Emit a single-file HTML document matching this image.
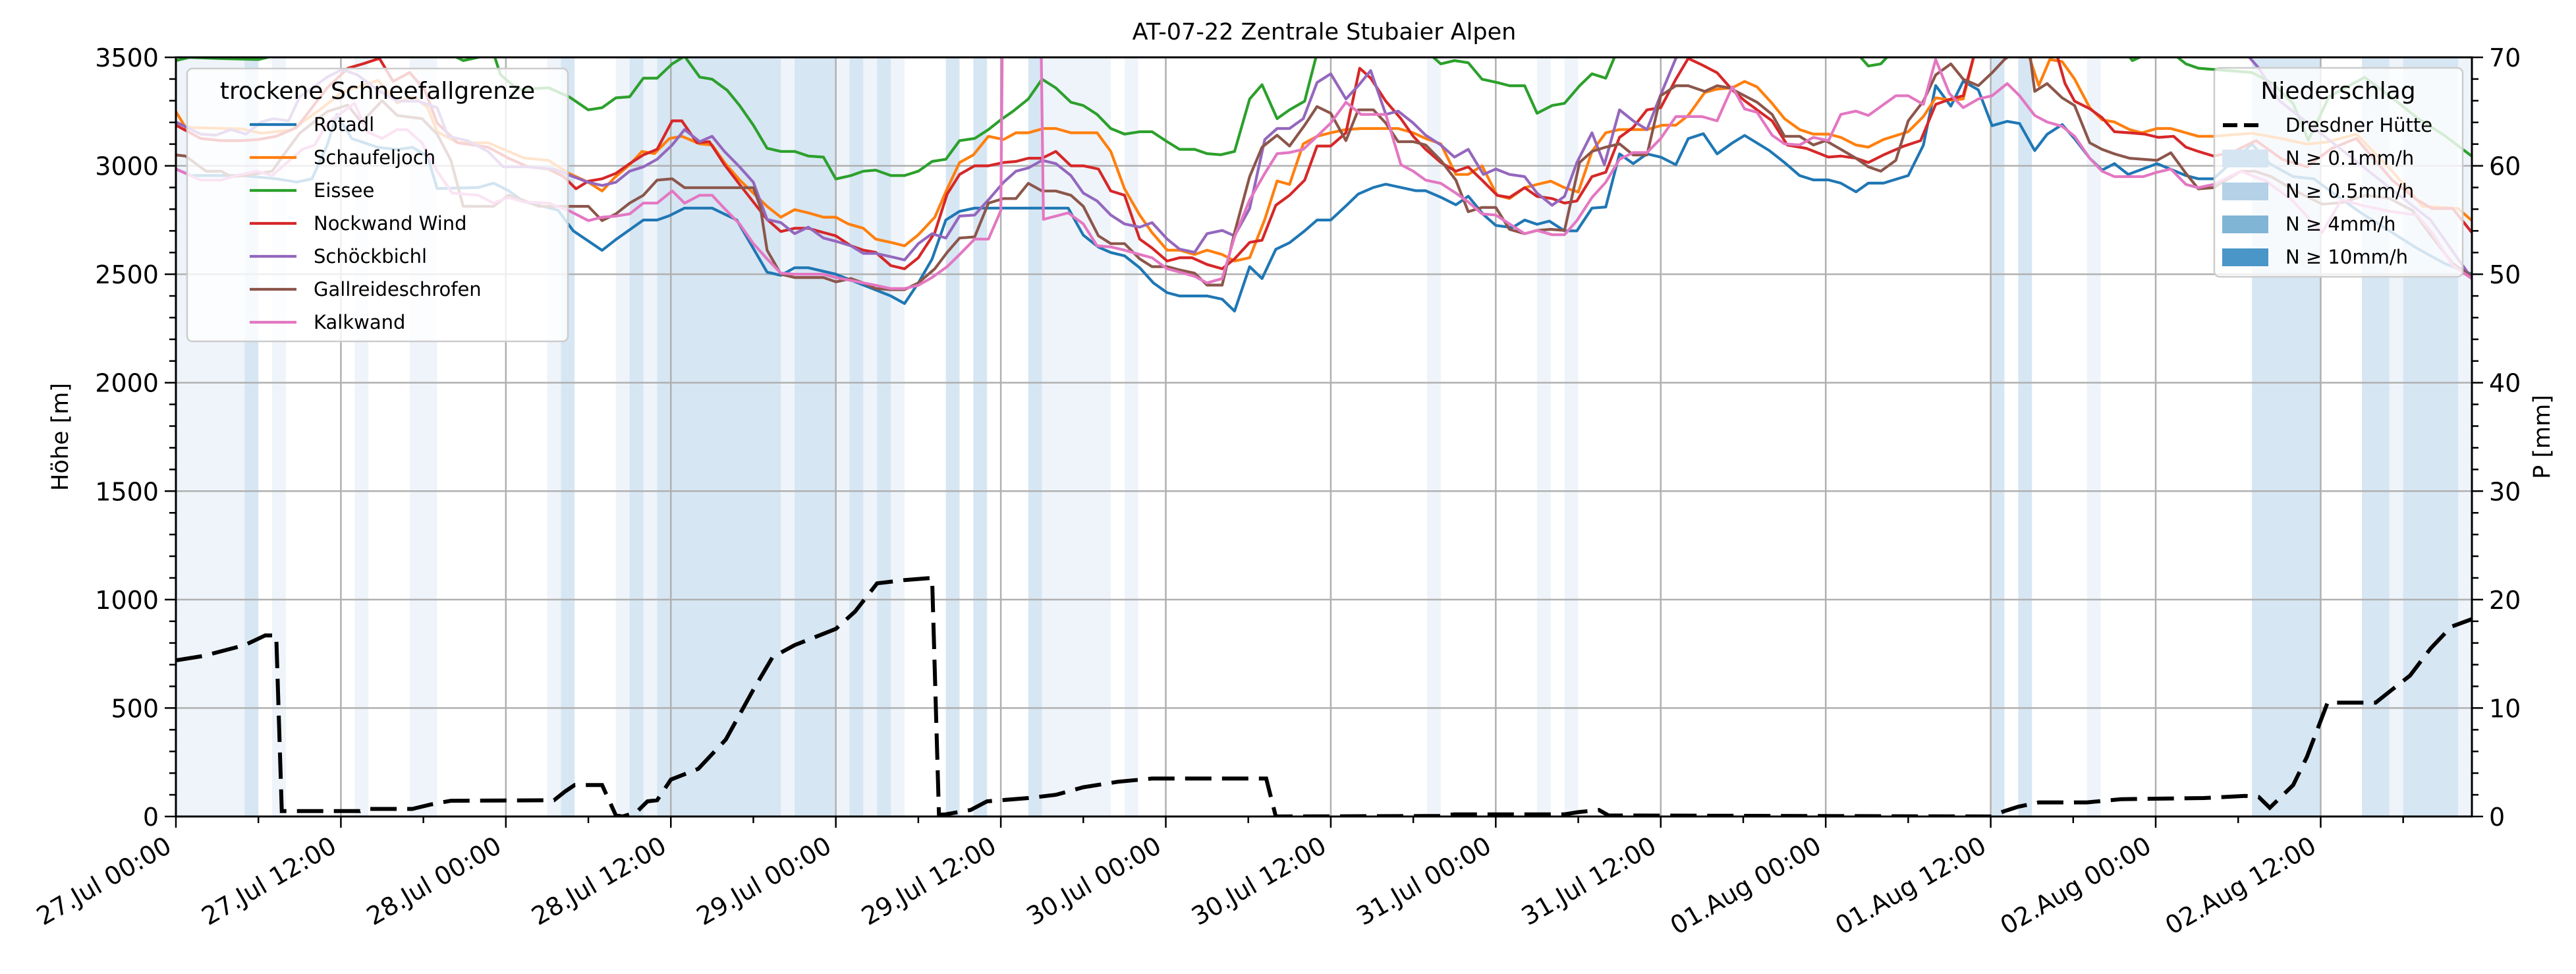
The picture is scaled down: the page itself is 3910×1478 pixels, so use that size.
<!DOCTYPE html>
<html><head><meta charset="utf-8">
<style>
html,body{margin:0;padding:0;background:#fff;}
svg{display:block;font-family:"DejaVu Sans","Liberation Sans",sans-serif;}
</style></head>
<body>
<svg id="chart" xmlns="http://www.w3.org/2000/svg" width="3910" height="1478" viewBox="0 0 3910 1478">
<rect x="0" y="0" width="3910" height="1478" fill="#ffffff"/>
<defs><clipPath id="plotclip"><rect x="267" y="87" width="3485" height="1152"/></clipPath></defs>
<g id="bands" clip-path="url(#plotclip)"></g>
<g id="grid"></g>
<g id="series" clip-path="url(#plotclip)"></g>
<g id="axes"></g>
<g id="legends"></g>
</svg>
<script>
// ---- data ----
const tickLabels = ["27.Jul 00:00","27.Jul 12:00","28.Jul 00:00","28.Jul 12:00","29.Jul 00:00","29.Jul 12:00","30.Jul 00:00","30.Jul 12:00","31.Jul 00:00","31.Jul 12:00","01.Aug 00:00","01.Aug 12:00","02.Aug 00:00","02.Aug 12:00"];
const leftTicks = [0,500,1000,1500,2000,2500,3000,3500];
const rightTicks = [0,10,20,30,40,50,60,70];
const seriesNames = ["Rotadl","Schaufeljoch","Eissee","Nockwand Wind","Schöckbichl","Gallreideschrofen","Kalkwand"];
const rotadl = [[0,2985],[1.1,2955],[4.8,2955],[7.3,2940],[8.8,2925],[9.9,2940],[11,3095],[11.7,3237],[12.8,3125],[14.7,3085],[16.1,3075],[17.2,3085],[18.3,3045],[19,2895],[22,2900],[23.1,2920],[24.2,2885],[25.3,2835],[27.8,2795],[28.9,2700],[31,2610],[32,2660],[34,2750],[35,2750],[35.9,2770],[37,2805],[39,2805],[40.8,2750],[41.9,2630],[43,2510],[44,2495],[45,2530],[46,2530],[48,2500],[50,2450],[52,2400],[53,2365],[54,2460],[55,2570],[56,2750],[57,2790],[58.1,2805],[64.9,2805],[66,2680],[67.1,2625],[68,2600],[69,2585],[70.1,2530],[71.1,2460],[72.1,2415],[73,2400],[75,2400],[76.1,2385],[77,2330],[78.1,2535],[79,2480],[80,2615],[81,2645],[82.1,2700],[83,2750],[84,2750],[85.1,2815],[86,2870],[87.1,2900],[88,2915],[89.1,2900],[90.2,2885],[90.9,2885],[92,2855],[93.1,2820],[94,2860],[95.1,2775],[96,2725],[97.2,2715],[98.1,2750],[99,2730],[99.9,2745],[101,2700],[101.9,2700],[103,2805],[104,2810],[105,3055],[106,3010],[107,3055],[108,3040],[109.1,3005],[110,3125],[111.1,3148],[112.1,3055],[113.2,3105],[114.1,3140],[115.9,3070],[117,3015],[118.1,2955],[119.1,2935],[120.2,2935],[121.1,2920],[122.2,2880],[123.1,2920],[124.2,2920],[126,2955],[127.1,3095],[128,3370],[129.1,3275],[130,3390],[131.1,3350],[132.1,3185],[133.2,3205],[134.1,3195],[135.2,3070],[136.1,3145],[137.2,3190],[138.1,3125],[139.2,3035],[140.1,2980],[141,3010],[142,2960],[144.1,3010],[146.2,2955],[147.1,2940],[148.2,2940],[151,3100],[152.3,3010],[154,2950],[155.5,2940],[157,2870],[159,2780],[161,2700],[163,2620],[165,2550],[167,2500]];
const schaufeljoch = [[0,3250],[0.7,3177],[4.8,3170],[6.2,3150],[8.4,3165],[10.5,3260],[12.1,3340],[14.7,3394],[16.1,3290],[17.2,3320],[18.3,3270],[19,3157],[20.5,3106],[22.7,3106],[24.2,3066],[25.3,3036],[27.1,3025],[28.6,2965],[30,2924],[31,2884],[31.9,2945],[33,3005],[33.9,3066],[34.8,3056],[35.9,3126],[36.8,3136],[38.1,3101],[39,3096],[39.9,3015],[41,2935],[42,2874],[43,2813],[44,2763],[45,2798],[46,2783],[47.1,2763],[48,2763],[48.9,2732],[50,2712],[50.9,2662],[52,2647],[53,2631],[54,2682],[55.2,2763],[56.1,2894],[57,3015],[58,3050],[59.1,3136],[60.2,3121],[61.1,3152],[62,3152],[63.1,3172],[64,3172],[65.1,3152],[67,3152],[68,3066],[69,2894],[70.1,2773],[71,2692],[72.1,2611],[73,2611],[74.1,2591],[75,2611],[76.1,2591],[77,2561],[78.1,2576],[79.2,2753],[80.1,2930],[81,2914],[82,3101],[83,3136],[84,3152],[85.1,3167],[86.2,3172],[88.9,3172],[90,3152],[90.9,3126],[92,3101],[93.1,2960],[94,2960],[95,3000],[96.1,2864],[97,2849],[98.1,2899],[99,2914],[100,2929],[101,2899],[102,2879],[103,3066],[104,3152],[105,3167],[107,3167],[108.1,3187],[109.1,3187],[110,3232],[111.2,3338],[112.1,3354],[113.2,3359],[114.1,3389],[115,3364],[116.1,3288],[117,3217],[118.1,3167],[119.1,3146],[120.2,3146],[121.1,3131],[122.2,3096],[123.1,3086],[124.2,3121],[126,3157],[127.1,3227],[128,3313],[129.1,3303],[130,3308],[131,3560],[134.5,3560],[135.5,3370],[136.3,3490],[137.2,3480],[138.1,3400],[139.2,3268],[140.1,3212],[141,3202],[142.1,3167],[143,3152],[144.1,3172],[145.1,3172],[146.2,3152],[147.1,3136],[148.2,3136],[151,3150],[153.1,3126],[155,3100],[156.5,3110],[158.6,3146],[161.2,2975],[163.4,2813],[166,2803],[167,2747]];
const eissee = [[0,3485],[1,3500],[3,3495],[6,3490],[8,3520],[19.8,3520],[20.9,3485],[22,3500],[23.1,3520],[23.6,3420],[24.9,3350],[27.1,3360],[28.6,3318],[30,3258],[31,3268],[32,3313],[33,3318],[34,3404],[35,3404],[36.1,3470],[37,3505],[38.1,3409],[39,3399],[40.1,3348],[41,3278],[42,3187],[43,3081],[44,3066],[45,3066],[46,3045],[47.1,3040],[48,2939],[49.1,2955],[50,2975],[50.9,2980],[52,2955],[53,2955],[54,2975],[55,3020],[56,3030],[57,3116],[58.1,3126],[59.1,3167],[60,3212],[60.9,3252],[62,3308],[63,3399],[64,3359],[65.1,3293],[66,3278],[67,3237],[68,3172],[69,3146],[70.1,3157],[71,3157],[72.1,3111],[73,3076],[74.1,3076],[75,3056],[76,3051],[77,3066],[78.1,3308],[79,3374],[80.1,3217],[81,3258],[82.1,3298],[83,3520],[91.1,3520],[92,3470],[93,3485],[94,3475],[95,3399],[96.1,3384],[97,3369],[98.1,3369],[99,3242],[100.1,3278],[101,3288],[102.1,3369],[103,3424],[104,3404],[104.7,3510],[122.4,3510],[123.1,3460],[124,3470],[124.6,3510],[142,3510],[142.3,3485],[143,3505],[145.5,3505],[146.2,3470],[147.1,3450],[148.2,3444],[151,3430],[152.5,3380],[154,3287],[155.1,3117],[156.6,3318],[159.2,3408],[161.3,3308],[163.1,3217],[165,3140],[167,3044]];
const nockwand = [[0,3187],[1.8,3126],[3.3,3116],[4.8,3116],[6,3121],[7.3,3136],[8.8,3177],[9.9,3268],[11,3359],[12.5,3450],[13.6,3470],[14.8,3495],[15.8,3389],[17,3430],[18.1,3350],[19,3197],[20.5,3106],[22.7,3086],[24.2,3035],[25.6,2995],[27.1,2985],[28.2,2950],[29.1,2894],[30,2929],[31,2940],[32,2965],[33,3010],[34,3050],[35,3076],[36.1,3207],[36.8,3207],[37.9,3106],[38.8,3111],[39.9,3005],[41,2914],[42,2833],[43,2753],[44,2697],[45,2712],[46,2712],[47.1,2692],[48,2677],[49.1,2631],[50,2611],[50.9,2601],[52,2540],[53,2525],[54,2576],[55.2,2692],[56.1,2870],[57,2960],[58.1,3000],[59.1,3000],[60.2,3015],[61.1,3020],[62,3035],[63,3035],[64,3066],[65.1,3000],[66,3000],[67.1,2985],[68,2884],[69,2864],[70.1,2662],[71,2621],[72.1,2561],[73,2576],[73.9,2576],[75,2545],[76.1,2525],[77,2571],[78.1,2647],[79,2657],[80,2818],[81,2864],[82.1,2934],[83,3091],[84,3091],[85.1,3152],[86.1,3450],[86.9,3404],[88,3298],[89.1,3217],[90,3136],[90.9,3076],[92,3015],[93.1,2975],[94,2995],[95,2934],[96.1,2864],[97,2854],[98.1,2899],[99,2859],[100.1,2849],[101,2828],[101.9,2838],[103,2950],[104,2970],[105,3131],[106,3177],[107,3258],[108,3268],[109.1,3399],[110,3495],[111,3465],[112.1,3429],[113.2,3350],[114.1,3300],[116.1,3207],[117.2,3096],[118.6,3080],[120.2,3040],[121.1,3045],[122.2,3035],[123.1,3015],[124.2,3050],[125.7,3091],[126.9,3116],[128,3283],[129.1,3308],[130,3323],[131,3560],[136.6,3560],[137.4,3380],[138.1,3298],[139.2,3263],[140.1,3222],[141,3157],[142.1,3152],[143.2,3146],[144.2,3131],[145.3,3136],[146.2,3086],[147.1,3066],[148.2,3045],[149.5,3060],[151.3,3116],[153.2,3030],[155,2995],[156.8,3080],[158.6,3126],[161.2,2934],[163,2843],[164.1,2803],[165.6,2803],[167,2692]];
const schoeckbichl = [[0,3202],[1.8,3146],[2.9,3141],[4,3167],[5.1,3146],[6.2,3202],[7.1,3217],[8.2,3207],[9,3318],[11,3409],[12.1,3444],[13.2,3419],[14.7,3348],[16.1,3298],[17.6,3298],[19,3268],[19.8,3136],[21.2,3116],[22.7,3066],[23.8,2995],[25.6,2995],[27.5,2985],[28.9,2950],[30,2924],[31,2909],[32,2924],[33,2975],[34,2995],[35,3030],[36.1,3096],[37,3167],[38.1,3111],[39,3136],[39.9,3066],[41,2995],[42,2924],[43,2753],[44,2738],[45,2687],[46,2717],[47.1,2667],[48,2652],[49.1,2631],[50,2596],[50.9,2596],[52,2581],[53,2566],[54,2641],[55,2687],[56,2667],[57,2768],[58.1,2773],[59.1,2843],[60.2,2924],[61.1,2975],[62,2990],[63,3025],[64,3010],[65.1,2955],[66,2874],[67,2838],[68,2773],[69,2732],[70.1,2717],[71,2738],[72.1,2662],[73,2616],[74.1,2601],[75,2687],[76.1,2702],[77,2677],[78.1,2803],[79.2,3121],[80.1,3172],[81,3172],[82,3217],[83,3384],[84,3424],[85.1,3308],[86,3369],[86.9,3439],[88,3237],[88.9,3252],[90,3197],[90.9,3141],[92,3096],[93,3040],[94,3076],[95.1,2960],[96,2985],[97,2960],[98.1,2950],[99,2874],[100.1,2818],[101,2859],[101.9,3015],[103,3152],[103.9,3005],[105,3258],[106,3207],[107,3167],[108,3328],[109.1,3495],[110,3560],[150,3560],[151.5,3450],[153,3300],[156,3150],[160,2950],[164,2750],[167,2480]];
const gallreide = [[0,3050],[0.7,3045],[2.2,2975],[3.3,2975],[4,2950],[5.1,2955],[7,2975],[7.9,3056],[9,3150],[11,3250],[12.5,3280],[13.5,3200],[15,3300],[16.1,3232],[17.9,3217],[19,3146],[20,3025],[20.9,2813],[23.1,2813],[24.2,2864],[25.3,2840],[26.4,2813],[30,2813],[31,2747],[32,2778],[33,2828],[34,2864],[35,2934],[36.1,2940],[37,2899],[42,2899],[42.5,2813],[43,2611],[44,2500],[45,2485],[47.1,2485],[48,2465],[49.1,2480],[50,2460],[50.9,2434],[52,2429],[53,2429],[54,2460],[55.2,2525],[56.1,2601],[57,2667],[58.1,2672],[59.1,2828],[60.2,2849],[61.1,2849],[62,2919],[63,2884],[64,2884],[65.1,2864],[66,2813],[67.1,2677],[68,2641],[69,2641],[70.1,2571],[71,2535],[72.1,2535],[73,2520],[74.1,2505],[75,2450],[76.1,2450],[77,2692],[78.1,2950],[79,3086],[80.1,3141],[81,3091],[82.1,3187],[83,3273],[84,3242],[85.1,3116],[86,3258],[87.1,3258],[88,3197],[88.9,3111],[90,3111],[90.9,3096],[92,3025],[93.1,2934],[94,2788],[95,2808],[96,2808],[97,2707],[98.1,2687],[99,2702],[100,2707],[101,2702],[102.1,3015],[103,3066],[104,3086],[105,3101],[106,3050],[107,3050],[108,3323],[109.1,3369],[110,3369],[111.2,3343],[112.1,3369],[113,3359],[115,3293],[116.1,3237],[117,3136],[118.1,3136],[119.1,3096],[120,3116],[121.1,3076],[122.2,3035],[123.1,2995],[124,2975],[125.1,3025],[126,3207],[127.1,3298],[128,3419],[129.1,3470],[130,3399],[131.1,3369],[132.1,3429],[133,3490],[134.1,3540],[134.8,3540],[135.2,3343],[136.1,3379],[137.2,3313],[138.1,3278],[139.2,3106],[140.1,3076],[141,3055],[142.1,3035],[144.1,3025],[145.1,3060],[146.2,2965],[147.1,2894],[148.2,2899],[150.2,2975],[151.2,2975],[152.4,2950],[154.3,2880],[156.1,2823],[157.5,2830],[159.3,2864],[161,2850],[162.7,2793],[164.1,2672],[165.6,2550],[167,2490]];
const kalkwand = [[0,2985],[1.8,2934],[3.3,2934],[4.4,2955],[5.9,2975],[7,2955],[7.9,3005],[9.2,3076],[10.1,3096],[11,3197],[12.1,3247],[13,3288],[13.9,3157],[15,3126],[16.1,3167],[16.8,3167],[17.9,3106],[19,2975],[20.1,2874],[22,2864],[23.1,2828],[24.2,2854],[25.3,2833],[27.1,2828],[28.6,2793],[30,2747],[31,2763],[32,2768],[33,2778],[34,2828],[35,2828],[36.1,2884],[37,2828],[38.1,2864],[39,2864],[39.9,2803],[41,2732],[42,2641],[43,2571],[44,2505],[45,2500],[47.1,2500],[48,2485],[50,2460],[50.9,2449],[52,2434],[53,2434],[54,2449],[55,2485],[56.1,2535],[57,2591],[58.1,2662],[59.1,2662],[60,2793],[60.2,4200],[62.8,4200],[63.1,2753],[64.9,2783],[66,2732],[67,2631],[68,2626],[69,2611],[70.1,2591],[71,2576],[72.1,2525],[73,2510],[74.1,2490],[75,2460],[76.1,2480],[77,2672],[78.1,2843],[79.2,2965],[80.1,3056],[81,3061],[82,3076],[83,3136],[84,3197],[85.1,3293],[86.2,3237],[88,3237],[89.1,3005],[90,2975],[90.9,2934],[92,2919],[93.1,2874],[94,2833],[95,2778],[96,2773],[97,2732],[98.1,2687],[99,2702],[100.1,2682],[101,2682],[101.9,2747],[103,2854],[104,2924],[105,3030],[106,3061],[107,3061],[108,3126],[109.1,3227],[111,3227],[112.1,3207],[113.2,3364],[114.1,3262],[115,3247],[116.1,3141],[117,3101],[118.1,3096],[119.1,3131],[120.2,3116],[121.1,3237],[122.2,3252],[123.1,3232],[124,3273],[125.1,3323],[126,3323],[127.1,3283],[128,3490],[129,3333],[130,3268],[131.1,3308],[132.1,3323],[133.2,3379],[134.1,3323],[135.2,3232],[136.1,3202],[137.2,3182],[138.1,3136],[139.2,3035],[140.1,2975],[141,2950],[143.1,2950],[144.1,2970],[145.1,2985],[146.2,2914],[147.1,2899],[148.2,2914],[150.2,2975],[152,2930],[153.9,2843],[156.1,2692],[157.5,2843],[159.3,2813],[161,2790],[163,2773],[164.1,2692],[165.6,2540],[167,2480]];
const precipDresdner = [[0,14.4],[2,14.8],[5,15.8],[6.5,16.7],[7.3,16.7],[7.7,0.5],[13.4,0.5],[13.8,0.7],[17.2,0.7],[18.5,1.1],[20,1.45],[27.5,1.5],[28.3,2.3],[29,2.9],[31,2.9],[32,0.1],[32.5,0],[33.5,0.4],[34.3,1.4],[35,1.5],[36,3.4],[38,4.4],[40,7.1],[42,11.7],[43.4,14.7],[45,15.8],[48,17.3],[49.4,18.9],[51,21.5],[53,21.8],[55,22],[55.5,0.15],[56,0.2],[57.8,0.6],[59,1.4],[62,1.7],[64,2],[66,2.7],[68.5,3.2],[71,3.5],[79.3,3.5],[80,0],[92,0.05],[93,0.2],[101,0.2],[102,0.4],[103.5,0.6],[104.2,0.1],[132,0],[133,0.5],[134,0.9],[135.5,1.3],[139,1.3],[141.5,1.6],[147.5,1.7],[150.5,1.9],[151.5,1.8],[152.3,0.8],[154,2.9],[155,5.5],[156.5,10.5],[160,10.5],[161,11.5],[162.5,13],[164,15.5],[165.5,17.5],[167,18.2]];
const bandsLight = [[0,5],[7,8],[13,14],[17,19],[27,28],[32,33],[34,35],[44,45],[48,49],[50,51],[52,53],[63,68],[69,70],[91,92],[99,100],[101,102],[139,140],[161,162],[166,167]];
const bandsMedium = [[5,6],[28,29],[33,34],[35,44],[45,48],[49,50],[51,52],[56,57],[58,59],[62,63],[132,133],[134,135],[151,156],[159,161],[162,166]];

// ---- scales ----
const X0=267, X1=3752, YT=87, YB=1239, HMAX=167;
function xs(h){return X0 + h/HMAX*(X1-X0);}
function ys(v){return YB - v/3500*(YB-YT);}
function ps(mm){return YB - mm/70*(YB-YT);}
const NS="http://www.w3.org/2000/svg";
function mk(tag, attrs, parent){const e=document.createElementNS(NS,tag);for(const k in attrs)e.setAttribute(k,attrs[k]);parent.appendChild(e);return e;}

// bands
const gB=document.getElementById('bands');
bandsLight.forEach(b=>{
  const r=mk('rect',{x:xs(b[0]),y:YT,width:xs(b[1])-xs(b[0]),height:YB-YT,fill:'#eef4fa'},gB);
  
  
});
bandsMedium.forEach(b=>{
  const r=mk('rect',{x:xs(b[0]),y:YT,width:xs(b[1])-xs(b[0]),height:YB-YT,fill:'#d6e6f3'},gB);
  
  
});

// grid
const gG=document.getElementById('grid');
for(let i=1;i<tickLabels.length;i++){
  const l=mk('line',{x1:xs(i*12),x2:xs(i*12),y1:YT,y2:YB,stroke:'#b0b0b0','stroke-width':2.5},gG);
  
  
}
leftTicks.forEach(v=>{ if(v>0&&v<3500){
  const l=mk('line',{x1:X0,x2:X1,y1:ys(v),y2:ys(v),stroke:'#b0b0b0','stroke-width':2.5},gG);
  
  
}});

// series
const gS=document.getElementById('series');
const colors=['#1f77b4','#ff7f0e','#2ca02c','#d62728','#9467bd','#8c564b','#e377c2'];
const allSeries=[rotadl,schaufeljoch,eissee,nockwand,schoeckbichl,gallreide,kalkwand];
allSeries.forEach((s,i)=>{
  const d=s.map((p,j)=>(j?'L':'M')+xs(p[0]).toFixed(1)+' '+ys(p[1]).toFixed(1)).join(' ');
  const p=mk('path',{d:d,fill:'none',stroke:colors[i],'stroke-width':4.2,'stroke-linejoin':'round'},gS);
  
  
});
{
  const d=precipDresdner.map((p,j)=>(j?'L':'M')+xs(p[0]).toFixed(1)+' '+ps(p[1]).toFixed(1)).join(' ');
  const p=mk('path',{d:d,fill:'none',stroke:'#000','stroke-width':6,'stroke-dasharray':'40 16'},gS);
  
  
}

// axes
const gA=document.getElementById('axes');
const frame=mk('rect',{x:X0,y:YT,width:X1-X0,height:YB-YT,fill:'none',stroke:'#000','stroke-width':3},gA);


for(let h=0;h<=HMAX;h+=6){
  const major=(h%12===0);
  const t=mk('line',{x1:xs(h),x2:xs(h),y1:YB,y2:YB+(major?17:10),stroke:'#000','stroke-width':2.5},gA);
  
  
}
tickLabels.forEach((lab,i)=>{
  const x=xs(i*12)-4, y=YB+52;
  const t=mk('text',{x:x,y:y,'font-size':38,'text-anchor':'end',transform:'rotate(-30 '+x+' '+y+')',fill:'#000'},gA);
  t.textContent=lab;
  
  
});
for(let v=0;v<=3500;v+=100){
  const major=(v%500===0);
  const t=mk('line',{x1:X0,x2:X0-(major?17:10),y1:ys(v),y2:ys(v),stroke:'#000','stroke-width':2.5},gA);
  
  
}
leftTicks.forEach(v=>{
  const t=mk('text',{x:X0-26,y:ys(v)+14,'font-size':38,'text-anchor':'end',fill:'#000'},gA);
  t.textContent=v;
  
  
});
for(let m=0;m<=70;m+=2){
  const major=(m%10===0);
  const t=mk('line',{x1:X1,x2:X1+(major?17:10),y1:ps(m),y2:ps(m),stroke:'#000','stroke-width':2.5},gA);
  
  
}
rightTicks.forEach(m=>{
  const t=mk('text',{x:X1+26,y:ps(m)+14,'font-size':38,'text-anchor':'start',fill:'#000'},gA);
  t.textContent=m;
  
  
});
{
  const t=mk('text',{x:2010,y:60,'font-size':35,'text-anchor':'middle',fill:'#000'},gA);
  t.textContent='AT-07-22 Zentrale Stubaier Alpen';
  
  
  const yl=mk('text',{x:103,y:663,'font-size':35,'text-anchor':'middle',transform:'rotate(-90 103 663)',fill:'#000'},gA);
  yl.textContent='Höhe [m]';
  
  
  const yr=mk('text',{x:3870,y:663,'font-size':35,'text-anchor':'middle',transform:'rotate(-90 3870 663)',fill:'#000'},gA);
  yr.textContent='P [mm]';
  
  
}

// legends
const gL=document.getElementById('legends');
{
  const box=mk('rect',{x:284,y:104,width:578,height:414,rx:8,fill:'#ffffff','fill-opacity':0.8,stroke:'#cccccc','stroke-width':2.5},gL);
  
  
  const tt=mk('text',{x:573,y:150,'font-size':36,'text-anchor':'middle',fill:'#000'},gL);
  tt.textContent='trockene Schneefallgrenze';
  
  
  seriesNames.forEach((n,i)=>{
    const y=189+i*50;
    const l=mk('line',{x1:379,x2:450,y1:y,y2:y,stroke:colors[i],'stroke-width':4.2},gL);
    
    
    const t=mk('text',{x:476,y:y+10,'font-size':29,fill:'#000'},gL);
    t.textContent=n;
    
    
  });
}
{
  const box=mk('rect',{x:3361,y:103,width:377,height:317,rx:8,fill:'#ffffff','fill-opacity':0.8,stroke:'#cccccc','stroke-width':2.5},gL);
  
  
  const tt=mk('text',{x:3549,y:150,'font-size':36,'text-anchor':'middle',fill:'#000'},gL);
  tt.textContent='Niederschlag';
  
  
  const dl=mk('line',{x1:3374,x2:3432,y1:190,y2:190,stroke:'#000','stroke-width':6,'stroke-dasharray':'22 10'},gL);
  
  
  const dt=mk('text',{x:3469,y:200,'font-size':29,fill:'#000'},gL);
  dt.textContent='Dresdner Hütte';
  
  
  const pc=['#d5e5f2','#b5d1e7','#80b5d6','#4a96c8'];
  const pl=['N ≥ 0.1mm/h','N ≥ 0.5mm/h','N ≥ 4mm/h','N ≥ 10mm/h'];
  pl.forEach((lab,i)=>{
    const y=240+i*50;
    const r=mk('rect',{x:3373,y:y-13,width:70,height:27,fill:pc[i]},gL);
    
    
    const t=mk('text',{x:3469,y:y+10,'font-size':29,fill:'#000'},gL);
    t.textContent=lab;
    
    
  });
}
</script>
</body></html>
